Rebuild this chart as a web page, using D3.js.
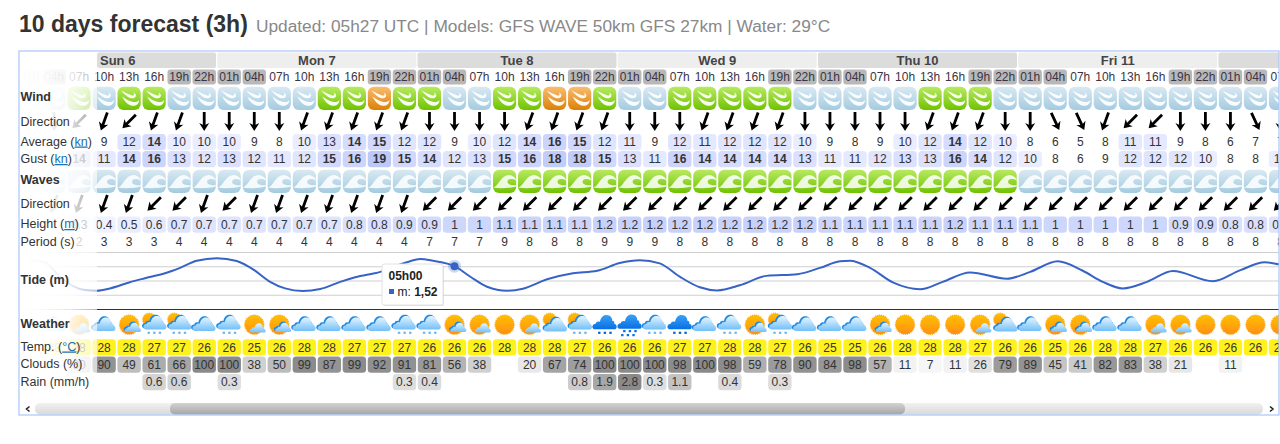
<!DOCTYPE html>
<html>
<head>
<meta charset="utf-8">
<script src="https://cdn.jsdelivr.net/npm/d3@7"></script>
<style>
  body { margin: 0; background: #fff; }
  text { font-family: "Liberation Sans", Arial, sans-serif; }
</style>
</head>
<body>
<div id="chart"></div>
<script>
// values, one entry per 3h column (first three sit under the label fade)
var hours = ["01h","04h","07h","10h","13h","16h","19h","22h",
  "01h","04h","07h","10h","13h","16h","19h","22h",
  "01h","04h","07h","10h","13h","16h","19h","22h",
  "01h","04h","07h","10h","13h","16h","19h","22h",
  "01h","04h","07h","10h","13h","16h","19h","22h",
  "01h","04h","07h","10h","13h","16h","19h","22h",
  "01h","04h","07h"];
var days = ["Sun 6", "Mon 7", "Tue 8", "Wed 9", "Thu 10", "Fri 11", "Sat 12"];
var dayStart = [0, 8, 16, 24, 32, 40, 48];
var windClass = "bbg bggbb bbbbggog gbbggoog bbgggggb bbbbgggb bbbbbbbb bbb".replace(/ /g, "").split("");
var windDir = [0,0,45, 20,45,20,20,0, 0,0,0,20,20,20,20,20, 0,0,0,0,20,20,20,20, 0,0,0,20,20,20,20,0,
  0,0,0,0,20,20,20,0, 0,-25,-25,20,45,45,0,0, 0,-25,0];
var windAvg = [null,null,null, 9,12,14,10,10, 10,9,8,10,13,14,15,12, 12,9,10,12,14,16,15,12, 11,9,12,11,12,12,12,10,
  9,8,9,10,12,14,12,10, 8,6,5,8,11,11,9,8, 6,7,7];
var windGust = [null,null,14, 11,14,16,13,12, 13,12,11,12,15,16,19,15, 14,12,13,15,16,18,18,15, 13,11,16,14,14,14,14,13,
  11,11,12,13,13,16,14,12, 10,8,6,9,12,12,12,10, 8,8,10];
var waveClass = "bbb bbbbb bbbbbbbb bbbggggg gggggggg gggggggg bbbbbbbb bbb".replace(/ /g, "").split("");
var waveDir = [20,20,20, 20,20,45,45,20, 45,20,20,20,20,20,20,20, 45,45,45,45,45,45,45,45, 45,45,45,45,45,45,45,45,
  45,45,45,45,45,45,45,45, 45,45,45,45,45,45,45,45, 45,45,45];
var waveHeight = [null,null,0.3, 0.4,0.5,0.6,0.7,0.7, 0.7,0.7,0.7,0.7,0.7,0.8,0.8,0.9, 0.9,1,1,1.1,1.1,1.1,1.1,1.2,
  1.2,1.2,1.2,1.2,1.2,1.2,1.2,1.2, 1.1,1.1,1.1,1.1,1.1,1.2,1.1,1.1, 1.1,1,1,1,1,1,0.9,0.9, 0.8,0.8,0.7];
var wavePeriod = [null,null,2, 3,3,3,4,4, 4,4,4,4,4,4,4,4, 7,7,7,9,8,8,8,9, 9,9,8,8,8,8,8,8,
  8,8,8,8,8,8,8,8, 8,8,8,8,8,8,8,8, 8,8,8];
var weather = ["cloud","cloud","few", "cloud","ring","mixdrizzle","mixdrizzle","cloud",
  "drizzle","few","ring","cloud","cloud","cloud","cloud","drizzle",
  "drizzle","ring","few","sun","few","mix","mixdrizzle","rain",
  "heavy","drizzle","rain","cloud","drizzle","ring","mixdrizzle","cloud",
  "cloud","cloud","ring","sun","sun","sun","few","mix",
  "cloud","ring","ring","cloud","cloud","few","few","sun",
  "sun","sun","sun"];
var temp = [null,28,28, 28,28,27,27,26, 26,25,26,28,28,27,27,27, 26,26,26,28,28,28,27,26, 26,26,27,27,28,28,27,26,
  25,25,26,28,28,28,27,26, 26,25,26,28,28,27,26,26, 26,26,26];
var clouds = [null,null,30, 90,49,61,66,100, 100,38,50,99,87,99,92,91, 81,56,38,null,20,67,74,100, 100,100,98,100,98,59,78,90,
  84,98,57,11,7,11,26,79, 89,45,41,82,83,38,21,null, 11,null,null];
var rain = [null,null,null, null,null,0.6,0.6,null, 0.3,null,null,null,null,null,null,0.3, 0.4,null,null,null,null,null,0.8,1.9,
  2.8,0.3,1.1,null,0.4,null,0.3,null, null,null,null,null,null,null,null,null,
  null,null,null,null,null,null,null,null, null,null,null];
// tide curve: hours after the first column, metres
var tideHour = [0.1,1.9,3.7,6.7,8.15,9.7,12,13.8,16.3,18.1,20.1,22.5,24.9,27,28.9,30.7,32.8,34.9,37.3,39.1,42.1,45,46.9,48.4,
  51,52.9,54.9,57.3,59.2,62.1,65.2,68.1,70.8,73.2,75.6,78,80.4,82.5,85.2,88.4,92.1,94.8,97.2,98.4,100.8,103.6,106.8,109.5,
  112.8,117.2,120,123.3,126.3,128.7,131.1,134,137.1,141.9,145.2,148.1,150];
var tideLevel = [1.73,1.66,1.14,0.68,0.66,0.74,0.95,1.09,1.27,1.46,1.71,1.8,1.7,1.38,0.97,0.74,0.65,0.72,0.97,1.13,1.32,1.63,1.77,1.71,
  1.52,1.15,0.8,0.66,0.73,1.06,1.27,1.36,1.63,1.73,1.62,1.15,0.78,0.67,0.85,1.18,1.24,1.46,1.69,1.71,1.46,0.94,0.71,0.97,
  1.3,1.08,1.32,1.69,1.36,0.97,0.74,0.97,1.35,0.99,1.38,1.66,1.57];
var tideTicks = [0, 0.5, 1, 1.5, 2];
var tipHour = 51, tipValue = 1.52, tipTime = "05h00", tipLabel = "1,52";

var svg = d3.select("#chart").append("svg").attr("width", 1280).attr("height", 444).style("display", "block");
var defs = svg.append("defs");

var frame = { left: 19, labelEnd: 97, right: 1279, top: 51, bottom: 415 };
var time = d3.scaleLinear().domain([0, 150]).range([29, 1280.5]);
var x = function(i) { return time(i * 3); };
var tideY = d3.scaleLinear().domain([0, 2]).range([309.5, 252.5]);

function gradient(id, stops, horizontal) {
  var g = defs.append("linearGradient").attr("id", id)
    .attr("x1", 0).attr("y1", 0).attr("x2", horizontal ? 1 : 0).attr("y2", horizontal ? 0 : 1);
  stops.forEach(function(s, i) {
    g.append("stop").attr("offset", i / (stops.length - 1)).attr("stop-color", s[0]).attr("stop-opacity", s[1] === undefined ? 1 : s[1]);
  });
}
gradient("g-b", [["#d9e9f2"], ["#a3cbe0"]]);
gradient("g-g", [["#b8ea62"], ["#6fc200"]]);
gradient("g-o", [["#f8bd72"], ["#dc8004"]]);
gradient("g-sun", [["#ffc000"], ["#ff8f14"]]);
gradient("g-cloud", [["#e4f4ff"], ["#72c0f8"]]);
gradient("g-dark", [["#3aa0f4"], ["#0670e4"]]);
gradient("g-track", [["#f1f1f1"], ["#d9d9d9"]]);
gradient("g-thumb", [["#d2d2d2"], ["#a6a6a6"]]);
gradient("g-fade", [["#fff", 1], ["#fff", 0.96], ["#fff", 0.86], ["#fff", 0.62]], true);

defs.append("clipPath").attr("id", "frame").append("rect")
  .attr("x", frame.left + 1).attr("y", frame.top).attr("width", frame.right - frame.left - 1).attr("height", frame.bottom - frame.top);

svg.append("text").attr("x", 19).attr("y", 32).attr("font-size", 23).attr("font-weight", "bold").attr("fill", "#333")
  .text("10 days forecast (3h)");
svg.append("text").attr("x", 256).attr("y", 32).attr("font-size", 17.3).attr("fill", "#888")
  .text("Updated: 05h27 UTC | Models: GFS WAVE 50km GFS 27km | Water: 29°C");

var plot = svg.append("g").attr("clip-path", "url(#frame)");

// day header is sticky, so it starts at the label column
function dayX0(i) { return Math.max(frame.labelEnd, x(dayStart[i]) - 12); }
function dayX1(i) { return x(dayStart[i] + 8) - 13.2; }
var band = plot.append("g");
band.selectAll("rect").data(days).enter().append("rect")
  .attr("x", function(d, i) { return dayX0(i); })
  .attr("y", 52.5).attr("height", 15.5).attr("rx", 2)
  .attr("width", function(d, i) { return dayX1(i) - dayX0(i); })
  .attr("fill", function(d, i) { return i % 2 ? "#eeeeee" : "#dcdcdc"; });
band.selectAll("text").data(days.slice(0, 6)).enter().append("text")
  .attr("x", function(d, i) { return i == 0 ? frame.labelEnd + 3 : x(dayStart[i] + 3.5); })
  .attr("y", 64.5).attr("text-anchor", function(d, i) { return i == 0 ? "start" : "middle"; })
  .attr("font-size", 13).attr("font-weight", "bold").attr("fill", "#444")
  .text(function(d) { return d; });

// hours
var night = ["19h", "22h", "01h", "04h"];
var hourRow = plot.append("g");
var hourCell = hourRow.selectAll("g").data(hours).enter().append("g")
  .attr("transform", function(d, i) { return "translate(" + x(i) + ",0)"; });
hourCell.filter(function(d) { return night.indexOf(d) >= 0; }).append("rect")
  .attr("x", -11.7).attr("y", 69.5).attr("width", 23.4).attr("height", 15).attr("rx", 3).attr("fill", "#b8b8b8");
hourCell.append("text").attr("y", 81).attr("text-anchor", "middle")
  .attr("font-size", 12).attr("fill", "#3c3344")
  .text(function(d) { return d; });

// icon cells
function iconRow(classes, y0, glyph) {
  var g = plot.append("g");
  var cell = g.selectAll("g").data(classes).enter().append("g")
    .attr("transform", function(d, i) { return "translate(" + x(i) + "," + y0 + ")"; });
  cell.append("rect").attr("x", -11.6).attr("y", -11.7).attr("width", 23.2).attr("height", 23.4).attr("rx", 6)
    .attr("fill", function(d) { return "url(#g-" + d + ")"; });
  glyph(cell);
}
function windGlyph(cell) {
  cell.append("path").attr("fill", "#fff").attr("fill-opacity", 0.92)
    .attr("d", "M-8,-8C-4,-6 0,-4 3,-3C5,-2.5 6,-4 4,-6C7,-5 8,-2 5,-.5C1,1 -4,-3 -8,-8Z");
  cell.append("path").attr("fill", "#fff").attr("fill-opacity", 0.92)
    .attr("d", "M-7,-2C-3,1 1,3 4,3.5C7,4 9,3 10,1.5C10,6 6,8 2,7C-2,6 -5,2 -7,-2Z");
}
function waveGlyph(cell) {
  cell.append("path").attr("fill", "#fff").attr("fill-opacity", 0.85)
    .attr("d", "M-11.6,6C-6,5 -4,-6 4,-6.5C7,-6.5 10,-5 11.6,-2L11.6,-1C8,-3 4,-3 3,-.5C2,2 6,4.5 11.6,3.5L11.6,5C6,6.5 -4,7.5 -11.6,6Z");
}
iconRow(windClass, 98.4, windGlyph);
iconRow(waveClass, 181.4, waveGlyph);

// direction arrows
function arrowRow(angles, y0) {
  plot.append("g").selectAll("path").data(angles).enter().append("path")
    .attr("d", "M-1.4,-9.5H1.4V3.2L5,1.6L0,9.5L-5,1.6L-1.4,3.2Z")
    .attr("fill", "#000")
    .attr("transform", function(d, i) { return "translate(" + x(i) + "," + y0 + ") rotate(" + d + ")"; });
}
arrowRow(windDir, 121.5);
arrowRow(waveDir, 204);

// number cells with a coloured box
function valueRow(values, y0, fill, bold) {
  var g = plot.append("g");
  var cell = g.selectAll("g").data(values.map(function(v, i) { return { v: v, i: i }; })
      .filter(function(d) { return d.v !== null; })).enter().append("g")
    .attr("transform", function(d) { return "translate(" + x(d.i) + "," + y0 + ")"; });
  cell.append("rect").attr("x", -11.7).attr("y", -8).attr("width", 23.4).attr("height", 16.2).attr("rx", 3.5)
    .attr("fill", function(d) { return fill(d.v); });
  cell.append("text").attr("y", 4.3).attr("text-anchor", "middle").attr("font-size", 12).attr("fill", "#333")
    .attr("font-weight", function(d) { return bold && bold(d.v) ? "bold" : "normal"; })
    .text(function(d) { return d.v; });
}
var avgColor = d3.scaleLinear().domain([10, 14, 19]).range(["#eaedff", "#d6dcfd", "#bcc8f8"]);
var windFill = function(v) { return v < 10 ? "none" : avgColor(v); };
var heightColor = d3.scaleLinear().domain([0.4, 0.7, 1, 1.2]).range(["#f0f2ff", "#dfe4fd", "#cdd6fb", "#c8d1fa"]);
var cloudColor = d3.scaleLinear().domain([7, 20, 38, 50, 67, 100]).range(["#f6f6f6", "#e8e8e8", "#d0d0d0", "#bcbcbc", "#a4a4a4", "#8a8a8a"]);
var rainColor = d3.scaleLinear().domain([0.3, 2.8]).range(["#dedede", "#8a8a8a"]);

valueRow(windAvg, 142, windFill, function(v) { return v >= 14; });
valueRow(windGust, 159, windFill, function(v) { return v >= 14; });
valueRow(waveHeight, 224.6, heightColor, null);
valueRow(wavePeriod, 241.5, function() { return "none"; }, null);
valueRow(temp, 347.2, function() { return "#fff21c"; }, null);
valueRow(clouds, 364.5, cloudColor, null);
valueRow(rain, 382, rainColor, null);

// tide
var tide = plot.append("g");
tide.selectAll("line").data(tideTicks).enter().append("line")
  .attr("x1", frame.left).attr("x2", frame.right)
  .attr("y1", tideY).attr("y2", tideY)
  .attr("stroke", function(d) { return d == 0 ? "#333" : "#cfcfcf"; })
  .attr("stroke-width", function(d) { return d == 0 ? 1 : 1.2; });
tide.append("path")
  .attr("d", d3.line()
    .x(function(d, i) { return time(tideHour[i]); })
    .y(function(d) { return tideY(d); })
    .curve(d3.curveMonotoneX)(tideLevel))
  .attr("fill", "none").attr("stroke", "#3763c6").attr("stroke-width", 2);
tide.append("circle").attr("cx", time(tipHour)).attr("cy", tideY(tipValue)).attr("r", 6.5).attr("fill", "#3763c6").attr("fill-opacity", 0.25);
tide.append("circle").attr("cx", time(tipHour)).attr("cy", tideY(tipValue)).attr("r", 4).attr("fill", "#3763c6");

// weather icons
var cloudPath = "M-10,7C-14,7 -14,1 -9.5,1C-9,-1 -7,-2 -5,-1C-4,-6 -1,-8 2,-8C6,-8 8,-5 8,-2C10,-2 10.5,0 10,1C13,1 14,7 10,7Z";
function sun(s, cx, cy, r) {
  s.append("circle").attr("cx", cx).attr("cy", cy).attr("r", r).attr("fill", "url(#g-sun)")
    .attr("stroke", "#ffa60a").attr("stroke-width", 1.2).attr("stroke-dasharray", "1 1");
}
function cloud(s, cx, cy, k, dark) {
  if (!dark) {
    s.append("path").attr("d", cloudPath).attr("fill", "#1f8ae6")
      .attr("transform", "translate(" + (cx - 1.4) + "," + (cy - 1.2) + ") scale(" + k + ")");
  }
  s.append("path").attr("d", cloudPath).attr("fill", dark ? "url(#g-dark)" : "url(#g-cloud)")
    .attr("transform", "translate(" + cx + "," + cy + ") scale(" + k + ")");
}
function dots(s, y0, color, n) {
  d3.range(-1, 2).forEach(function(k) {
    s.append("rect").attr("x", k * 5.6 - 1).attr("y", y0).attr("width", 2.4).attr("height", 2.2).attr("fill", color);
    if (n > 1) {
      s.append("rect").attr("x", k * 5.6 - 3).attr("y", y0 + 4).attr("width", 2.4).attr("height", 2.2).attr("fill", color);
    }
  });
}
var painters = {
  sun: function(s) { sun(s, 0, 0, 9.6); },
  few: function(s) {
    sun(s, 0, 0, 9.6);
    s.append("path").attr("d", cloudPath).attr("fill", "url(#g-cloud)").attr("transform", "translate(3.5,3.5) scale(.62)");
  },
  ring: function(s) {
    sun(s, 0, 0, 9.6);
    cloud(s, 4, 3, 0.62);
  },
  mix: function(s) {
    sun(s, -5, -5, 6.5);
    cloud(s, 1, 0.5, 0.9);
  },
  cloud: function(s) { cloud(s, 0, 0, 0.9); },
  drizzle: function(s) {
    cloud(s, 0, -1.5, 0.9);
    dots(s, 7, "#6ab7f2", 1);
  },
  mixdrizzle: function(s) {
    sun(s, -5, -5, 6.5);
    cloud(s, 1, -1.5, 0.9);
    dots(s, 7, "#6ab7f2", 1);
  },
  rain: function(s) {
    cloud(s, 0, -2, 0.95, true);
    dots(s, 7, "#0a5fd0", 1);
  },
  heavy: function(s) {
    cloud(s, 0, -2.5, 0.95, true);
    dots(s, 5.3, "#0a6fe0", 2);
  }
};
plot.append("g").selectAll("g").data(weather).enter().append("g")
  .attr("transform", function(d, i) { return "translate(" + x(i) + ",324.7)"; })
  .each(function(d) { painters[d](d3.select(this)); });

// label column fades whatever scrolls under it
plot.append("rect").attr("x", frame.left + 1).attr("y", 69).attr("width", frame.labelEnd - frame.left - 1).attr("height", 334).attr("fill", "url(#g-fade)");

// row labels
var labels = [
  { y: 100.5, t: "Wind", b: 1 }, { y: 125.5, t: "Direction" }, { y: 145.5, t: "Average (", u: "kn", e: ")" },
  { y: 163, t: "Gust (", u: "kn", e: ")" }, { y: 184, t: "Waves", b: 1 }, { y: 208, t: "Direction" },
  { y: 228, t: "Height (", u: "m", e: ")" }, { y: 246, t: "Period (s)" }, { y: 284, t: "Tide (m)", b: 1 },
  { y: 328, t: "Weather", b: 1 }, { y: 350.5, t: "Temp. (", u: "°C", e: ")" }, { y: 368, t: "Clouds (%)" },
  { y: 385.5, t: "Rain (mm/h)" }
];
labels.forEach(function(d) {
  var t = svg.append("text").attr("x", 20.5).attr("y", d.y).attr("font-size", 12.5)
    .attr("font-weight", d.b ? "bold" : "normal").attr("fill", "#333").text(d.t);
  if (d.u) {
    t.append("tspan").attr("fill", "#1b6fb5").attr("text-decoration", "underline").text(d.u);
    t.append("tspan").text(d.e);
  }
});

// tooltip
var tip = svg.append("g").attr("transform", "translate(382,264)");
tip.append("rect").attr("x", 1).attr("y", 1).attr("width", 61).attr("height", 41).attr("rx", 2).attr("fill", "#000").attr("fill-opacity", 0.12);
tip.append("rect").attr("width", 61).attr("height", 41).attr("rx", 2).attr("fill", "#fff").attr("stroke", "#e2e2e2");
tip.append("text").attr("x", 6.5).attr("y", 16).attr("font-size", 12).attr("font-weight", "bold").attr("fill", "#222").text(tipTime);
tip.append("rect").attr("x", 7).attr("y", 25).attr("width", 5).attr("height", 5).attr("fill", "#3763c6");
var tipText = tip.append("text").attr("x", 15.5).attr("y", 31.5).attr("font-size", 12).attr("fill", "#222").text("m: ");
tipText.append("tspan").attr("font-weight", "bold").text(tipLabel);

// scrollbar
var scroll = svg.append("g");
scroll.append("rect").attr("x", 35).attr("y", 403).attr("width", 1228).attr("height", 11.5).attr("rx", 5).attr("fill", "url(#g-track)");
scroll.append("rect").attr("x", 170).attr("y", 403).attr("width", 735).attr("height", 11.5).attr("rx", 5).attr("fill", "url(#g-thumb)");
scroll.append("path").attr("d", "M29.5,406.5L26.5,409L29.5,411.5M1270,406.5L1273,409L1270,411.5")
  .attr("fill", "none").attr("stroke", "#222").attr("stroke-width", 1.5);

// frame
svg.append("rect").attr("x", frame.left).attr("y", frame.top).attr("width", frame.right - frame.left).attr("height", frame.bottom - frame.top)
  .attr("fill", "none").attr("stroke", "#aac5fa").attr("stroke-width", 1.2);
</script>
</body>
</html>
